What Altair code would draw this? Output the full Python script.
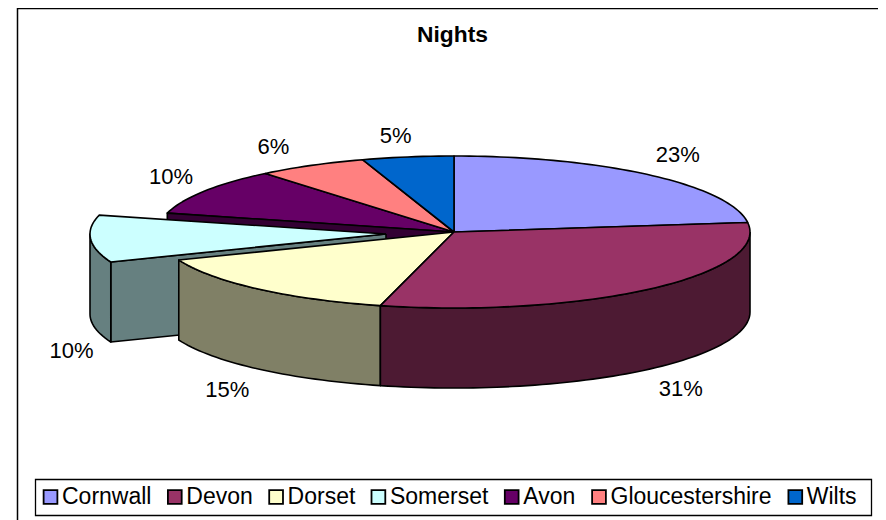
import math
import altair as alt
import pandas as pd

names = ["Cornwall", "Devon", "Dorset", "Somerset", "Avon", "Gloucestershire", "Wilts"]
shares = [23, 31, 15, 10, 10, 6, 5]
top_colors = ["#9999FF", "#993366", "#FFFFCC", "#CCFFFF", "#660066", "#FF8080", "#0066CC"]
side_colors = ["#4D4D80", "#4D1A33", "#808066", "#668080", "#330033", "#804040", "#003366"]
labels = ["23%", "31%", "15%", "10%", "10%", "6%", "5%"]

W, H = 870, 512
M = 8                      # page margin
CX, CY, RX, RY, DEPTH = 454, 232, 296, 76, 80
EXPLODE = {"Somerset": (-68, 2)}
LABEL_NUDGE = {"Cornwall": (28, -20), "Devon": (31, 100), "Dorset": (-31, 101),
               "Somerset": (-19, 112), "Avon": (-33, -14),
               "Gloucestershire": (-38, -18), "Wilts": (-12, -21)}

edges = {}
acc = 0
for n, s in zip(names, shares):
    edges[n] = (acc * 3.6, (acc + s) * 3.6)
    acc += s


def pt(name, ang, drop=0):
    dx, dy = EXPLODE.get(name, (0, 0))
    a = math.radians(ang)
    return (CX + dx + RX * math.sin(a), CY + dy - RY * math.cos(a) + drop)


def arc(name, a0, a1, drop=0):
    n = max(2, int(abs(a1 - a0) / 1.5) + 1)
    return [pt(name, a0 + (a1 - a0) * i / (n - 1), drop) for i in range(n)]


def top(name):
    a0, a1 = edges[name]
    c = pt(name, 0)
    c = (c[0], c[1] + RY)
    return [c] + arc(name, a0, a1) + [c]


def rim(name, a0, a1):
    up = arc(name, a0, a1)
    return up + arc(name, a1, a0, DEPTH) + [up[0]]


def cut(name, ang):
    o = pt(name, 0)
    o = (o[0], o[1] + RY)
    e = pt(name, ang)
    return [o, e, (e[0], e[1] + DEPTH), (o[0], o[1] + DEPTH), o]


pieces = [
    ("Cornwall", "Cornwall", top("Cornwall")),
    ("Avon", "Avon", top("Avon")),
    ("Gloucestershire", "Gloucestershire", top("Gloucestershire")),
    ("Wilts", "Wilts", top("Wilts")),
    ("Avon side", "Avon cut", cut("Avon", edges["Avon"][0])),
    ("Somerset side", "Somerset cut", cut("Somerset", edges["Somerset"][0])),
    ("Somerset side", "Somerset rim", rim("Somerset", edges["Somerset"][0], 270)),
    ("Somerset", "Somerset", top("Somerset")),
    ("Dorset side", "Dorset rim", rim("Dorset", *edges["Dorset"])),
    ("Devon side", "Devon rim", rim("Devon", 90, edges["Devon"][1])),
    ("Dorset", "Dorset", top("Dorset")),
    ("Devon", "Devon", top("Devon")),
]

rows = []
for p_i, (key, piece, pts) in enumerate(pieces):
    for i, (x, y) in enumerate(pts):
        rows.append({"key": key, "piece": f"{p_i:02d} {piece}", "i": i, "x": x - M, "y": y - M})
poly = pd.DataFrame(rows)

domain = names + [n + " side" for n in names]
rng = top_colors + side_colors

xs = alt.Scale(domain=[0, W], nice=False, zero=False)
ys = alt.Scale(domain=[H, 0], nice=False, zero=False)
X = alt.X("x:Q", scale=xs, axis=None)
Y = alt.Y("y:Q", scale=ys, axis=None)

slices = alt.Chart(poly).mark_line(
    stroke="black", strokeWidth=1.6, strokeJoin="round", clip=False
).encode(
    x=X, y=Y,
    fill=alt.Fill(
        "key:N",
        scale=alt.Scale(domain=domain, range=rng),
        sort=domain,
        legend=alt.Legend(
            values=names, title=None, orient="none", direction="horizontal", columns=7,
            legendX=27, legendY=471, symbolType="square", symbolSize=190,
            symbolStrokeColor="black", symbolStrokeWidth=1.8, symbolOpacity=1,
            labelFont="Liberation Sans", labelFontSize=23, labelColor="black",
            labelOffset=0, columnPadding=11.3, padding=4,
            labelLimit=300, gridAlign="each", clipHeight=28,
        ),
    ),
    detail="piece:N",
    order="i:Q",
)

label_rows = []
for n, lab in zip(names, labels):
    a0, a1 = edges[n]
    ax, ay = pt(n, (a0 + a1) / 2)
    nx, ny = LABEL_NUDGE[n]
    label_rows.append({"label": lab, "x": ax + nx - M, "y": ay + ny - M})

pct = alt.Chart(pd.DataFrame(label_rows)).mark_text(
    font="Liberation Sans", fontSize=22, color="black", align="center", baseline="middle"
).encode(x=X, y=Y, text="label:N")

title_txt = alt.Chart(pd.DataFrame([{"t": "Nights", "x": 452.5 - M, "y": 35 - M}])).mark_text(
    font="Liberation Sans", fontSize=22.8, fontWeight="bold", color="black",
    align="center", baseline="middle"
).encode(x=X, y=Y, text="t:N")

frame_h = alt.Chart(pd.DataFrame([{"x": 17 - M, "x2": W, "y": 0.5}])).mark_rule(
    color="black", strokeWidth=1.5
).encode(x=X, x2="x2:Q", y=Y)
frame_v = alt.Chart(pd.DataFrame([{"x": 17.5 - M, "y": 0, "y2": H}])).mark_rule(
    color="black", strokeWidth=1.5
).encode(x=X, y=Y, y2="y2:Q")
legend_box = alt.Chart(pd.DataFrame([{"x": 35.5 - M, "x2": 871.5 - M, "y": 479.5 - M, "y2": 515.5 - M}])).mark_rect(
    fill="white", stroke="black", strokeWidth=1.3
).encode(x=X, x2="x2:Q", y=Y, y2="y2:Q")

chart = (frame_h + frame_v + legend_box + slices + pct + title_txt).properties(
    width=W, height=H, padding=0, autosize=alt.AutoSizeParams(type="none")
).configure_view(stroke=None)

chart.save("out.html", embed_options={"renderer": "svg", "actions": False})
